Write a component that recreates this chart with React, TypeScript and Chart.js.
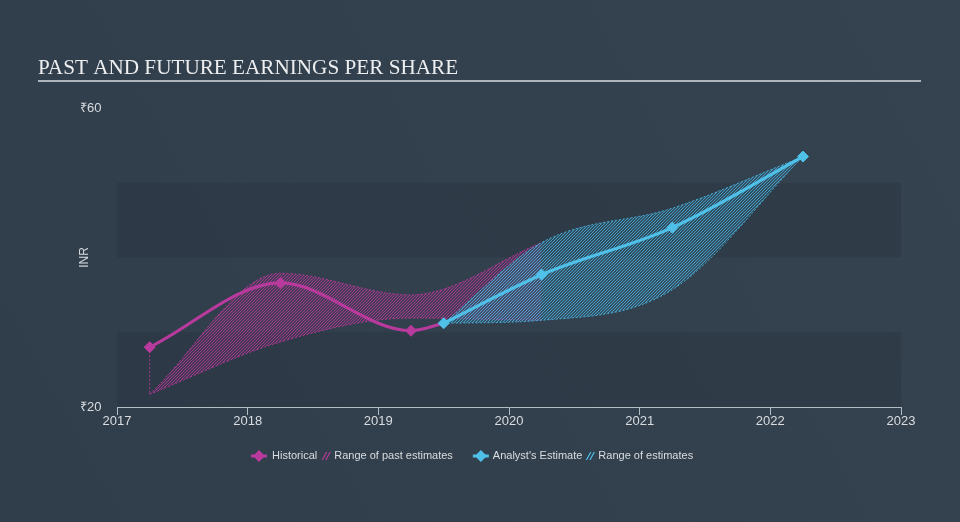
import { useEffect, useRef } from 'react';
import { Chart, registerables } from 'chart.js';

Chart.register(...registerables);

// ---- data ----
const titleText = 'PAST AND FUTURE EARNINGS PER SHARE';
const yAxisTitle = 'INR';
const xTickYears = [2017, 2018, 2019, 2020, 2021, 2022, 2023];
const yTickValues = [20, 60];
const bandRanges: number[][] = [[20, 30], [40, 50]];

const histX = [2017.25, 2018.25, 2019.25, 2019.5];
const histY = [28.0, 36.6, 30.2, 31.2];

const estX = [2019.5, 2020.25, 2021.25, 2022.25];
const estY = [31.2, 37.7, 44.0, 53.5];

const pastRangeX = [2017.25, 2018.25, 2019.25, 2020.25];
const pastHigh = [21.7, 37.9, 35.0, 42.0];
const pastLow = [21.7, 28.7, 31.9, 31.6];

const estRangeX = [2019.5, 2020.25, 2021.25, 2022.25];
const estHigh = [31.2, 42.0, 46.6, 53.5];
const estLow = [31.2, 31.6, 35.7, 53.5];

const histDropX = [2017.25, 2017.25];
const histDropY = [28.0, 21.7];

const legendLabels = ['Historical', 'Range of past estimates', "Analyst's Estimate", 'Range of estimates'];

// ---- styles ----
const MAGENTA = '#b93a9d';
const CYAN = '#4fc1e9';
const MAGENTA_HATCH = 'rgba(176,56,150,0.95)';
const CYAN_HATCH = 'rgba(70,175,220,0.9)';
const MAGENTA_TINT = 'rgba(176,56,150,0.16)';
const CYAN_TINT = 'rgba(70,175,220,0.16)';
const TEXT = '#d9dde1';
const SANS = '"Liberation Sans", Arial, sans-serif';

const pts = (xs: number[], ys: number[]) => xs.map((x, i) => ({ x, y: ys[i] }));

function makeHatch(ctx: CanvasRenderingContext2D, color: string, tint: string) {
  const size = 3;
  const c = document.createElement('canvas');
  c.width = size;
  c.height = size;
  const g = c.getContext('2d')!;
  g.fillStyle = tint;
  g.fillRect(0, 0, size, size);
  g.strokeStyle = color;
  g.lineWidth = 0.9;
  g.beginPath();
  g.moveTo(0, size);
  g.lineTo(size, 0);
  g.moveTo(-size / 2, size / 2);
  g.lineTo(size / 2, -size / 2);
  g.moveTo(size / 2, size * 1.5);
  g.lineTo(size * 1.5, size / 2);
  g.stroke();
  return ctx.createPattern(c, 'repeat')!;
}

export default function App() {
  const ref = useRef<HTMLCanvasElement | null>(null);

  useEffect(() => {
    const canvas = ref.current!;
    const ctx0 = canvas.getContext('2d')!;
    const magentaPattern = makeHatch(ctx0, MAGENTA_HATCH, MAGENTA_TINT);
    const cyanPattern = makeHatch(ctx0, CYAN_HATCH, CYAN_TINT);

    const drawHatchIcon = (ctx: CanvasRenderingContext2D, x: number, y: number, color: string) => {
      ctx.save();
      ctx.strokeStyle = color;
      ctx.lineWidth = 1.2;
      ctx.beginPath();
      for (let k = 0; k < 2; k++) {
        const ox = x + k * 3.5;
        ctx.moveTo(ox, y + 4);
        ctx.lineTo(ox + 4.5, y - 4);
      }
      ctx.stroke();
      ctx.restore();
    };

    const drawLineMarker = (ctx: CanvasRenderingContext2D, x: number, y: number, color: string) => {
      ctx.save();
      ctx.strokeStyle = color;
      ctx.fillStyle = color;
      ctx.lineWidth = 3;
      ctx.beginPath();
      ctx.moveTo(x, y);
      ctx.lineTo(x + 16, y);
      ctx.stroke();
      ctx.beginPath();
      const cx = x + 8;
      ctx.moveTo(cx - 6, y);
      ctx.lineTo(cx, y - 6);
      ctx.lineTo(cx + 6, y);
      ctx.lineTo(cx, y + 6);
      ctx.closePath();
      ctx.fill();
      ctx.restore();
    };

    const decor = {
      id: 'decor',
      beforeDraw(chart: any) {
        const { ctx, width, height, chartArea, scales } = chart;
        ctx.save();
        const g = ctx.createLinearGradient(width, 0, 0, height);
        g.addColorStop(0, '#35424f');
        g.addColorStop(1, '#303d4b');
        ctx.fillStyle = g;
        ctx.fillRect(0, 0, width, height);

        ctx.fillStyle = 'rgba(28,38,50,0.2)';
        bandRanges.forEach(([a, b]) => {
          const y1 = scales.y.getPixelForValue(b);
          const y2 = scales.y.getPixelForValue(a);
          ctx.fillRect(chartArea.left, y1, chartArea.right - chartArea.left, y2 - y1);
        });

        ctx.fillStyle = '#eceef0';
        ctx.font = '21.2px "Liberation Serif", "Times New Roman", serif';
        ctx.textAlign = 'left';
        ctx.textBaseline = 'alphabetic';
        ctx.fillText(titleText, 38, 74);
        ctx.fillStyle = '#aeb4bb';
        ctx.fillRect(38, 80, 883, 2);

        ctx.translate(85, (chartArea.top + chartArea.bottom) / 2);
        ctx.rotate(-Math.PI / 2);
        ctx.font = '12px ' + SANS;
        ctx.fillStyle = TEXT;
        ctx.textAlign = 'center';
        ctx.textBaseline = 'middle';
        ctx.fillText(yAxisTitle, 0, 0);
        ctx.restore();
      },
      afterDraw(chart: any) {
        const { ctx } = chart;
        ctx.save();
        ctx.font = '11px ' + SANS;
        ctx.fillStyle = TEXT;
        ctx.textBaseline = 'middle';
        ctx.textAlign = 'left';
        const y = 456;
        let x = 251;
        drawLineMarker(ctx, x, y, MAGENTA);
        x += 21;
        ctx.fillText(legendLabels[0], x, y);
        x += ctx.measureText(legendLabels[0]).width + 5;
        drawHatchIcon(ctx, x, y, MAGENTA);
        x += 12;
        ctx.fillText(legendLabels[1], x, y);
        x += ctx.measureText(legendLabels[1]).width + 20;
        drawLineMarker(ctx, x, y, CYAN);
        x += 20;
        ctx.fillText(legendLabels[2], x, y);
        x += ctx.measureText(legendLabels[2]).width + 4;
        drawHatchIcon(ctx, x, y, CYAN);
        x += 12;
        ctx.fillText(legendLabels[3], x, y);
        ctx.restore();
      },
    };

    const rangeStyle = (color: string) => ({
      borderColor: color,
      borderWidth: 1,
      borderDash: [2, 2],
      pointRadius: 0,
      cubicInterpolationMode: 'monotone' as const,
    });

    const chart = new Chart(canvas, {
      type: 'line',
      data: {
        datasets: [
          {
            label: 'Historical',
            data: pts(histX, histY),
            borderColor: MAGENTA,
            backgroundColor: MAGENTA,
            borderWidth: 3.2,
            pointStyle: 'rectRot',
            pointRadius: [5.5, 5.5, 5.5, 0],
            pointBorderWidth: 1,
            pointBorderColor: MAGENTA,
            cubicInterpolationMode: 'monotone',
            fill: false,
            order: 1,
          },
          {
            label: "Analyst's Estimate",
            data: pts(estX, estY),
            borderColor: CYAN,
            backgroundColor: CYAN,
            borderWidth: 3.2,
            pointStyle: 'rectRot',
            pointRadius: 5.5,
            pointBorderWidth: 1,
            pointBorderColor: CYAN,
            cubicInterpolationMode: 'monotone',
            fill: false,
            order: 0,
          },
          {
            label: 'pastLow',
            data: pts(pastRangeX, pastLow),
            ...rangeStyle(MAGENTA_HATCH),
            fill: false,
            order: 5,
          },
          {
            label: 'Range of past estimates',
            data: pts(pastRangeX, pastHigh),
            ...rangeStyle(MAGENTA_HATCH),
            backgroundColor: magentaPattern,
            fill: '-1',
            order: 6,
          },
          {
            label: 'estLow',
            data: pts(estRangeX, estLow),
            ...rangeStyle(CYAN_HATCH),
            fill: false,
            order: 3,
          },
          {
            label: 'Range of estimates',
            data: pts(estRangeX, estHigh),
            ...rangeStyle(CYAN_HATCH),
            backgroundColor: cyanPattern,
            fill: '-1',
            order: 4,
          },
          {
            label: 'drop',
            data: pts(histDropX, histDropY),
            borderColor: MAGENTA_HATCH,
            borderWidth: 1,
            borderDash: [2, 2],
            pointRadius: 0,
            tension: 0,
            fill: false,
            order: 7,
          },
        ],
      },
      options: {
        responsive: false,
        animation: false,
        events: [],
        layout: { padding: { left: 80, right: 59, top: 108, bottom: 75 } },
        plugins: {
          legend: { display: false },
          tooltip: { enabled: false },
          title: { display: false },
        },
        scales: {
          x: {
            type: 'linear',
            min: xTickYears[0],
            max: xTickYears[xTickYears.length - 1],
            afterBuildTicks: (s: any) => {
              s.ticks = xTickYears.map((v) => ({ value: v }));
            },
            afterFit: (s: any) => {
              s.height = 40;
            },
            ticks: {
              color: TEXT,
              font: { size: 13, family: SANS },
              padding: -1,
              maxRotation: 0,
              callback: (v: any) => String(v),
            },
            grid: {
              drawOnChartArea: false,
              drawTicks: true,
              tickLength: 8,
              tickColor: '#b4bcc4',
            },
            border: { display: true, color: '#b4bcc4', width: 1 },
          },
          y: {
            type: 'linear',
            min: yTickValues[0],
            max: yTickValues[yTickValues.length - 1],
            afterBuildTicks: (s: any) => {
              s.ticks = yTickValues.map((v) => ({ value: v }));
            },
            afterFit: (s: any) => {
              s.width = 37;
            },
            ticks: {
              color: TEXT,
              font: { size: 13, family: SANS },
              crossAlign: 'far',
              callback: (v: any) => '\u20B9' + v,
            },
            grid: { display: false },
            border: { display: false },
          },
        },
      },
      plugins: [decor],
    });

    return () => chart.destroy();
  }, []);

  return (
    <div style={{ position: 'fixed', left: 0, top: 0, width: 960, height: 522 }}>
      <canvas ref={ref} width={960} height={522} style={{ width: 960, height: 522, display: 'block' }} />
    </div>
  );
}
